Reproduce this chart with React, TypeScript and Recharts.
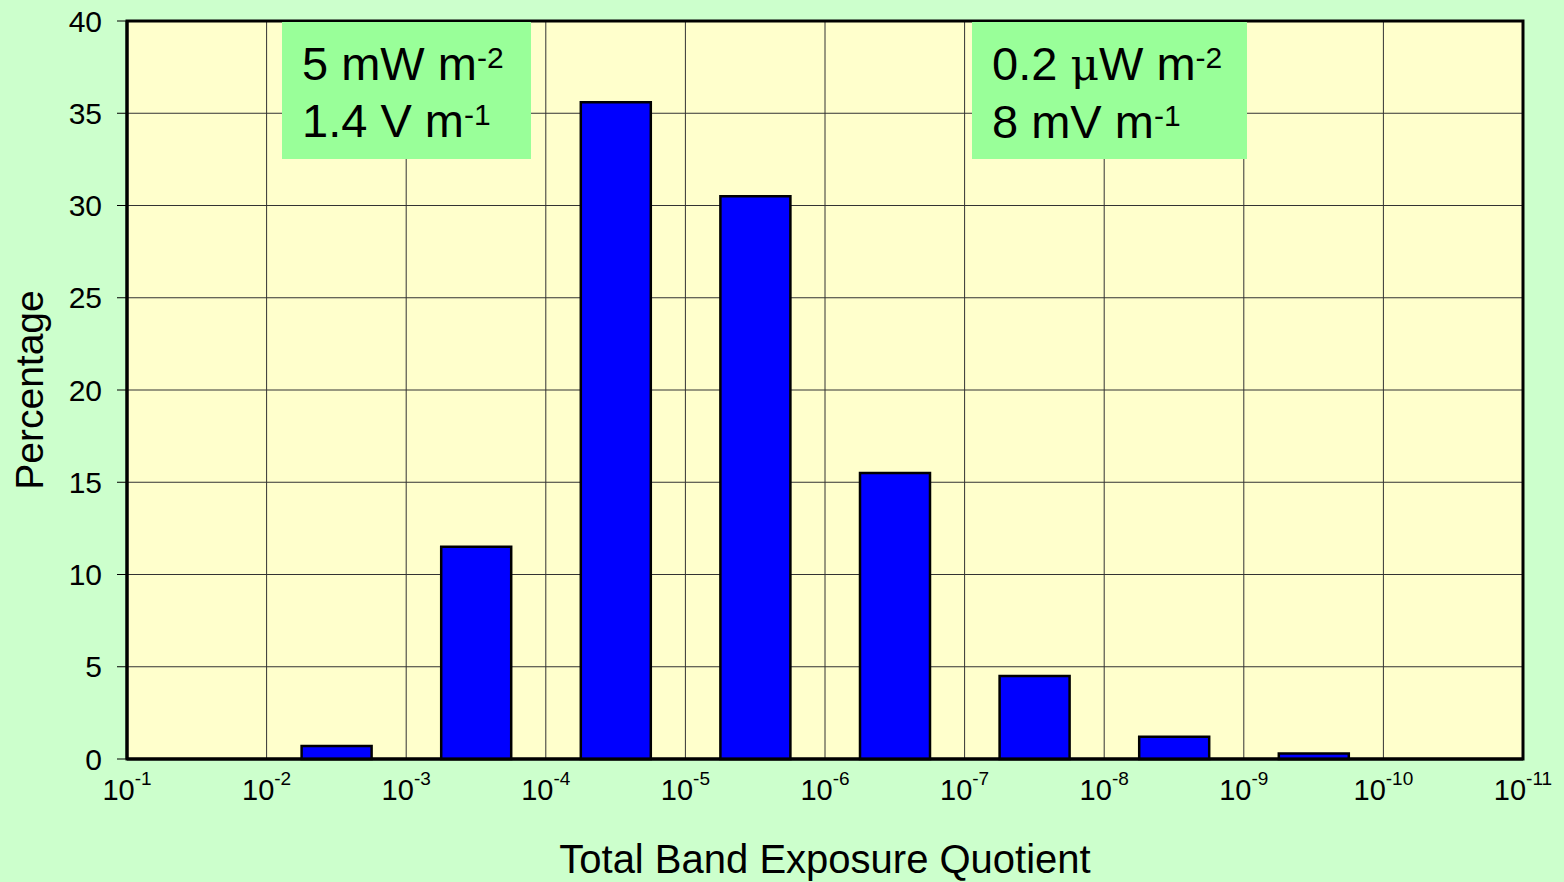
import React from 'react';
import {
  ComposedChart,
  Bar,
  XAxis,
  YAxis,
  CartesianGrid,
  ReferenceArea,
} from 'recharts';

// Decade edges of the exposure-quotient bins (powers of ten)
const edgeExponents = [-1, -2, -3, -4, -5, -6, -7, -8, -9, -10, -11];
// Percentage of measurements falling in each decade bin (10^-1..10^-2, 10^-2..10^-3, ...)
const binPercentages = [0, 0.7, 11.5, 35.6, 30.5, 15.5, 4.5, 1.2, 0.3, 0];
const yTicks = [0, 5, 10, 15, 20, 25, 30, 35, 40];

const data = binPercentages.map((pct, i) => ({ pos: i + 0.5, pct }));
const xTicks = edgeExponents.map((_, i) => i);

const FONT = '"Liberation Sans", Arial, sans-serif';
const W = 1564;
const H = 882;

const DecadeTick = (props: any) => {
  const { x, y, payload } = props;
  const exp = edgeExponents[payload.value];
  return (
    <text x={x} y={y + 41} textAnchor="middle" fill="#000" style={{ fontFamily: FONT }}>
      <tspan style={{ fontSize: 29 }}>10</tspan>
      <tspan style={{ fontSize: 19 }} dy={-15}>
        {String(exp)}
      </tspan>
    </text>
  );
};

const boxStyle: React.CSSProperties = {
  position: 'absolute',
  background: '#99ff99',
  fontFamily: FONT,
  fontSize: 47,
  lineHeight: '57px',
  color: '#000',
  boxSizing: 'border-box',
  paddingTop: 13,
  whiteSpace: 'nowrap',
};
const supStyle: React.CSSProperties = {
  fontSize: 30,
  verticalAlign: 'top',
  position: 'relative',
  top: -6,
};

export default function App() {
  return (
    <div
      style={{
        position: 'absolute',
        left: 0,
        top: 0,
        width: W,
        height: H,
        background: '#ccffcc',
        overflow: 'hidden',
      }}
    >
      <ComposedChart
        width={W}
        height={H}
        data={data}
        margin={{ top: 21, right: 41, bottom: 0, left: 0 }}
      >
        <CartesianGrid stroke="#333" strokeWidth={1} fill="#ffffcc" vertical horizontal />
        <XAxis
          type="number"
          dataKey="pos"
          domain={[0, 10]}
          ticks={xTicks}
          interval={0}
          height={123}
          tickSize={0}
          tickMargin={0}
          tickLine={false}
          axisLine={{ stroke: '#000', strokeWidth: 3 }}
          tick={<DecadeTick />}
          label={(p: any) => {
            const vb = p.viewBox;
            return (
              <text
                x={vb.x + vb.width / 2}
                y={873}
                textAnchor="middle"
                fill="#000"
                style={{ fontFamily: FONT, fontSize: 40 }}
              >
                Total Band Exposure Quotient
              </text>
            );
          }}
        />
        <YAxis
          type="number"
          domain={[0, 40]}
          ticks={yTicks}
          interval={0}
          width={127}
          tickSize={10}
          tickMargin={15}
          tickLine={{ stroke: '#000', strokeWidth: 1 }}
          axisLine={{ stroke: '#000', strokeWidth: 3 }}
          tick={{ fontFamily: FONT, fontSize: 30, fill: '#000' }}
          label={(p: any) => {
            const vb = p.viewBox;
            const cy = vb.y + vb.height / 2;
            return (
              <text
                x={43}
                y={cy}
                transform={`rotate(-90 43 ${cy})`}
                textAnchor="middle"
                fill="#000"
                style={{ fontFamily: FONT, fontSize: 39 }}
              >
                Percentage
              </text>
            );
          }}
        />
        <Bar
          dataKey="pct"
          fill="#0000ff"
          stroke="#000"
          strokeWidth={2.5}
          barSize={70}
          isAnimationActive={false}
        />
        <ReferenceArea
          x1={0}
          x2={10}
          y1={0}
          y2={40}
          fill="none"
          stroke="#000"
          strokeWidth={3}
          ifOverflow="visible"
        />
      </ComposedChart>

      <div style={{ ...boxStyle, left: 282, top: 22, width: 249, height: 137, paddingLeft: 20 }}>
        <div>
          5 mW m<span style={supStyle}>-2</span>
        </div>
        <div>
          1.4 V m<span style={supStyle}>-1</span>
        </div>
      </div>

      <div style={{ ...boxStyle, left: 972, top: 22, width: 275, height: 137, paddingLeft: 20 }}>
        <div>
          0.2 <span style={{ fontFamily: '"DejaVu Serif", serif', fontSize: 44 }}>μ</span>W m
          <span style={supStyle}>-2</span>
        </div>
        <div>
          8 mV m<span style={supStyle}>-1</span>
        </div>
      </div>
    </div>
  );
}
